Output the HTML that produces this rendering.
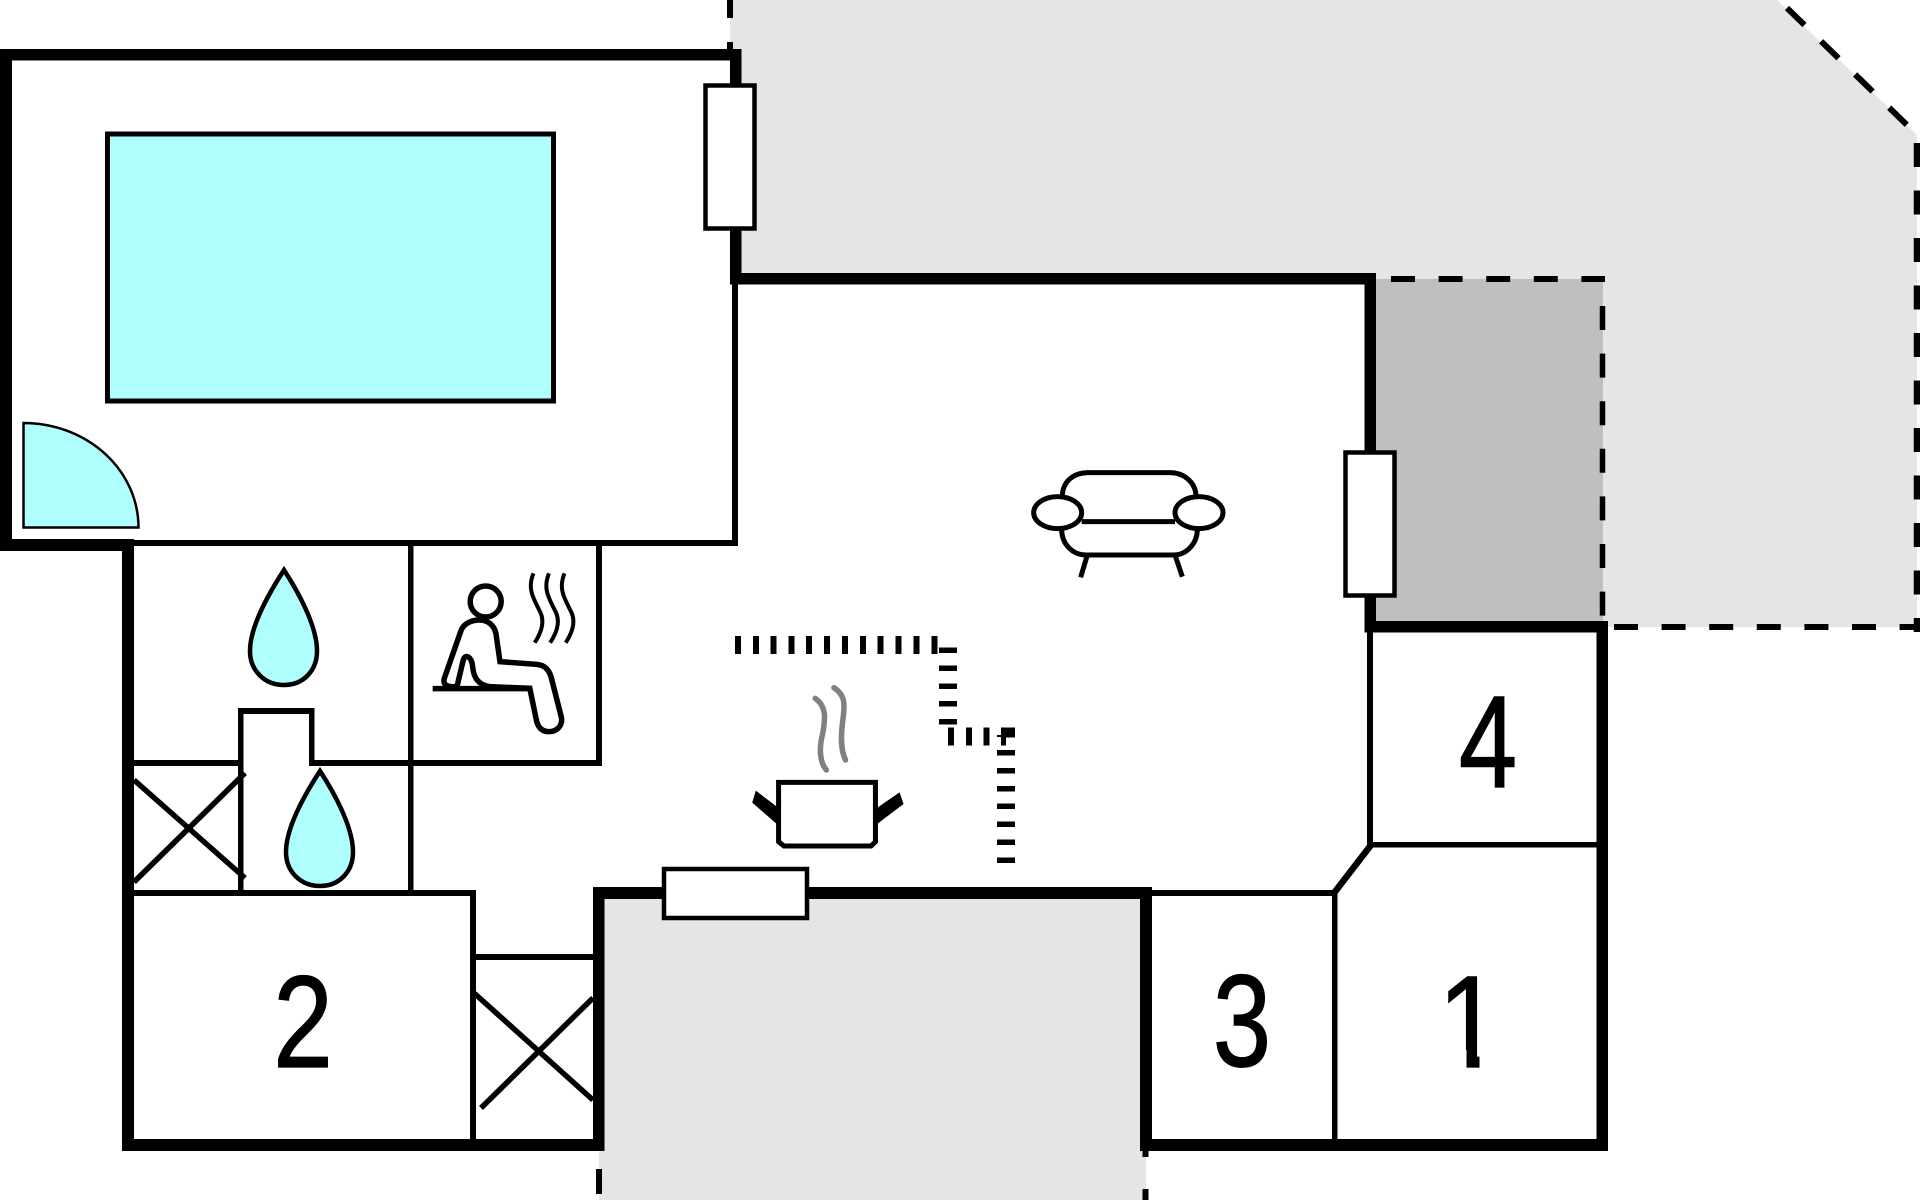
<!DOCTYPE html>
<html><head><meta charset="utf-8"><style>
html,body{margin:0;padding:0;background:#fff;width:1920px;height:1200px;overflow:hidden}
svg{display:block}
text{font-family:"Liberation Sans",sans-serif;font-size:131px;fill:#000;stroke:#000;stroke-width:1.2px;text-anchor:middle}
.n{vector-effect:non-scaling-stroke}
</style></head><body>
<svg width="1920" height="1200" viewBox="0 0 1920 1200" xmlns="http://www.w3.org/2000/svg">
<polygon points="730,0 1777,0 1917,135 1917,627 1376,627 1376,273 730,273" fill="#e5e5e5"/>
<rect x="1376" y="279" width="227" height="343" fill="#bfbfbf"/>
<rect x="599" y="890" width="547" height="310" fill="#e5e5e5"/>

<!-- dashed -->
<g stroke="#000" fill="none">
<path d="M730 0V18M730 42V50" stroke-width="6"/>
<path d="M1391 279H1605" stroke-width="6" stroke-dasharray="24 23.6"/>
<path d="M1602.5 306V620" stroke-width="5.5" stroke-dasharray="24 23.6"/>
<path d="M1917 143V632" stroke-width="6.5" stroke-dasharray="24 23.5"/>
<path d="M1614 627H1920" stroke-width="6" stroke-dasharray="24 23.6"/>
<path d="M1787 8L1907 125" stroke-width="6" stroke-dasharray="24.4 23.2"/>
<path d="M599 1169V1194" stroke-width="6"/>
<path d="M1145.5 1151V1157M1145.5 1189V1200" stroke-width="6"/>
</g>

<!-- thick walls -->
<g fill="#000">
<rect x="0" y="49" width="741" height="11.5"/>
<rect x="0" y="49" width="12" height="502"/>
<rect x="0" y="539" width="134" height="12"/>
<rect x="122" y="539" width="12" height="612"/>
<rect x="122" y="1139" width="482.5" height="12"/>
<rect x="593" y="887" width="11.5" height="264"/>
<rect x="593" y="887" width="559" height="12"/>
<rect x="1140" y="887" width="12" height="264"/>
<rect x="1140" y="1139" width="468" height="12"/>
<rect x="1596.5" y="621" width="11.5" height="530"/>
<rect x="1364.5" y="621" width="243.5" height="11.5"/>
<rect x="1364.5" y="273" width="11.5" height="359.5"/>
<rect x="730" y="273" width="646" height="11.5"/>
<rect x="730" y="49" width="11.5" height="235.5"/>
<!-- thin walls -->
<rect x="732" y="284" width="6" height="262"/>
<rect x="134" y="540" width="604" height="6"/>
<rect x="408" y="540" width="5.5" height="353"/>
<rect x="596" y="540" width="6" height="226"/>
<rect x="134" y="760" width="104" height="6"/>
<rect x="309" y="760" width="293" height="6"/>
<rect x="238" y="708" width="5.5" height="185"/>
<rect x="238" y="708" width="76" height="6"/>
<rect x="309" y="708" width="5.5" height="58"/>
<rect x="134" y="890" width="342" height="6"/>
<rect x="470" y="890" width="6" height="255"/>
<rect x="476" y="954" width="117" height="6"/>
<rect x="1152" y="890" width="183" height="6"/>
<rect x="1332" y="890" width="5.5" height="250"/>
<rect x="1367" y="632" width="6" height="213"/>
<rect x="1370" y="842" width="228" height="5.5"/>
</g>
<path d="M1334 893L1371 845" stroke="#000" stroke-width="6.5" fill="none"/>

<!-- pool -->
<rect x="107.5" y="134" width="446" height="267" fill="#b0ffff" stroke="#000" stroke-width="5"/>
<path d="M23.5 423V527.5H138.5A115 104.5 0 0 0 23.5 423Z" fill="#b0ffff" stroke="#000" stroke-width="2.5"/>

<!-- windows / doors -->
<g fill="#fff" stroke="#000" stroke-width="4.5">
<rect x="705.5" y="85.5" width="49" height="143"/>
<rect x="1345.5" y="452.5" width="49" height="143"/>
<rect x="664" y="869" width="143" height="49"/>
</g>

<!-- X boxes -->
<g stroke="#000" stroke-width="5.5" fill="none">
<path d="M134 780L245 878M134 882L245 773"/>
<path d="M474 993L593 1100M481 1108L593 998"/>
</g>

<!-- drops -->
<g fill="#b0ffff" stroke="#000" stroke-width="4.5">
<path d="M284 570C271 590 250 625 250 651C250 671 265 685 284 685C303 685 317 671 317 651C317 625 297 590 284 570Z"/>
<path transform="translate(36 201)" d="M284 570C271 590 250 625 250 651C250 671 265 685 284 685C303 685 317 671 317 651C317 625 297 590 284 570Z"/>
</g>

<!-- sauna person -->
<g fill="none" stroke="#000" stroke-width="5.5">
<ellipse cx="485.7" cy="601.5" rx="15.5" ry="15.5"/>
<g transform="translate(0 400) scale(.40816 .33333)">
<path class="n" d="M1098 858C1088 855 1085 845 1090 830L1130 690C1138 668 1158 660 1175 660C1195 660 1210 675 1215 700L1225 785L1315 793C1335 795 1345 810 1350 830L1375 950C1380 975 1365 995 1345 995C1330 995 1320 985 1315 965L1298 865L1200 860C1170 855 1160 830 1158 800C1156 770 1140 760 1135 780L1120 858C1112 862 1104 860 1098 858"/>
<path class="n" d="M1060 866H1298"/>
<path class="n" stroke-width="4" d="M1307 520C1290 570 1310 600 1325 640C1335 670 1325 700 1310 728"/>
<path class="n" stroke-width="4" d="M1345 520C1328 570 1348 600 1363 640C1373 670 1363 700 1348 728"/>
<path class="n" stroke-width="4" d="M1383 520C1366 570 1386 600 1401 640C1411 670 1401 700 1386 728"/>
</g>
</g>

<!-- sofa -->
<g transform="translate(1000 440) scale(.33333)" fill="none" stroke="#000" stroke-width="15">
<path d="M187 165C190 120 225 98 265 98H510C550 98 585 125 588 165"/>
<ellipse cx="173" cy="218" rx="72" ry="48"/>
<ellipse cx="597" cy="218" rx="72" ry="48"/>
<path d="M245 245H525"/>
<path d="M185 268C185 310 215 345 260 345H520C560 345 592 310 592 268"/>
<path d="M262 345L242 412M525 345L547 410"/>
</g>

<!-- stove dashes -->
<g fill="#000">
<rect x="735" y="636" width="6" height="18"/><rect x="753" y="636" width="6" height="18"/><rect x="770.5" y="636" width="6" height="18"/><rect x="788.5" y="636" width="6" height="18"/><rect x="806" y="636" width="6" height="18"/><rect x="824" y="636" width="6" height="18"/><rect x="842" y="636" width="6" height="18"/><rect x="860" y="636" width="6" height="18"/><rect x="877.5" y="636" width="6" height="18"/><rect x="895.5" y="636" width="6" height="18"/><rect x="913.5" y="636" width="6" height="18"/><rect x="931.5" y="636" width="6" height="18"/>
<rect x="939" y="647.5" width="18" height="5.5"/><rect x="939" y="665.5" width="18" height="5.5"/><rect x="939" y="683.5" width="18" height="5.5"/><rect x="939" y="701" width="18" height="5.5"/><rect x="939" y="719" width="18" height="5.5"/>
<rect x="948" y="727.5" width="6" height="18"/><rect x="966" y="727.5" width="6" height="18"/><rect x="983.5" y="727.5" width="6" height="18"/><rect x="1001" y="727.5" width="5" height="18"/>
<rect x="1001" y="727.5" width="14" height="10"/><rect x="997" y="735" width="18" height="2"/>
<rect x="997" y="750" width="18" height="5.5"/><rect x="997" y="768" width="18" height="5.5"/><rect x="997" y="786" width="18" height="5.5"/><rect x="997" y="803.5" width="18" height="5.5"/><rect x="997" y="821.5" width="18" height="5.5"/><rect x="997" y="839.5" width="18" height="5.5"/><rect x="997" y="857.5" width="18" height="5.5"/>
</g>

<!-- pot -->
<g transform="translate(700 420) scale(.44643 .33333)">
<path d="M125 1112L117 1148L172 1212L172 1160ZM447 1117L456 1152L395 1214L395 1165Z" fill="#000"/>
<path class="n" d="M176 1087H393V1265L383 1278H188L176 1265Z" fill="#fff" stroke="#000" stroke-width="5"/>
<path class="n" d="M258 835C285 860 280 900 275 940C265 990 270 1030 283 1050" fill="none" stroke="#808080" stroke-width="5.5" stroke-linecap="round"/>
<path class="n" d="M300 803C325 825 325 850 320 900C315 950 315 990 326 1020" fill="none" stroke="#808080" stroke-width="5.5" stroke-linecap="round"/>
</g>

<!-- numbers -->
<text transform="translate(303 1067) scale(.82 1)">2</text>
<text transform="translate(1242 1066) scale(.80 1)">3</text>
<text transform="translate(1469.5 1067) scale(.87 1)">1</text>
<text transform="translate(1488 787) scale(.80 1)">4</text>
<!-- the reference "1" has no foot serif -->
<rect x="1430" y="1050" width="36.5" height="20" fill="#fff"/>
<rect x="1479.5" y="1050" width="30" height="20" fill="#fff"/>
</svg>
</body></html>
